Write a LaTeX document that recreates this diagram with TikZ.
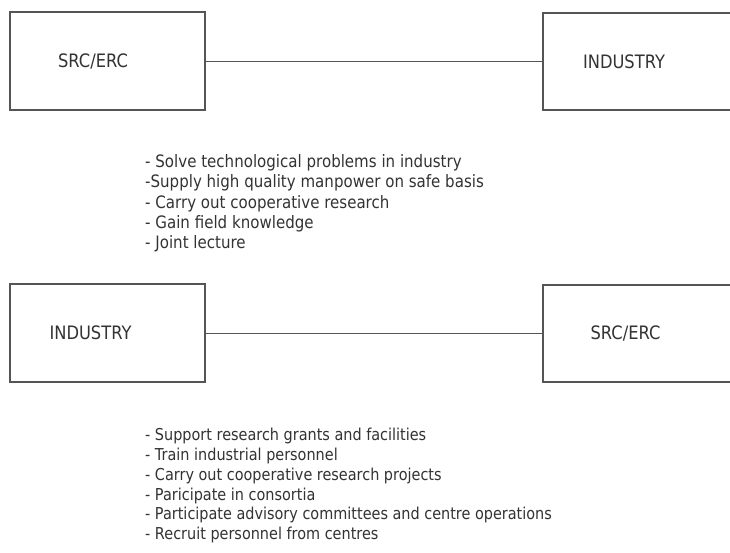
\documentclass[tikz,border=0pt]{standalone}
\usepackage{fontspec}
\setmainfont{DejaVu Sans}
\newfontfamily\tah[FakeStretch=0.88]{DejaVu Sans}
\definecolor{ink}{HTML}{333333}
\definecolor{frame}{HTML}{555555}
\tikzset{
  partbox/.style={draw=frame, line width=1.1pt, inner sep=0pt},
  partname/.style={text=ink, font=\tah\fontsize{18.5}{22}\selectfont, anchor=base, inner sep=0pt},
  item/.style={text=ink, font=\tah\fontsize{16.4}{20}\selectfont, anchor=base west, inner sep=0pt},
  itemwide/.style={item, font=\tah\fontsize{17.1}{20}\selectfont},
  link/.style={draw=frame, line width=0.9pt}
}
\begin{document}
\begin{tikzpicture}[x=1pt, y=-1pt]
  \useasboundingbox[fill=white] (0,0) rectangle (730,553);

  % first pairing
  \node[partbox, minimum width=195pt, minimum height=98pt] (src1) at (107.5,61) {};
  \node[partbox, minimum width=197pt, minimum height=97pt] (ind1) at (641.5,61.5) {};
  \node[partname] (src1t) at (93,68) {SRC/ERC};
  \node[partname] (ind1t) at (624,68.5) {INDUSTRY};
  \draw[link] (src1.east) -- (src1.east -| ind1.west);

  \node[itemwide] (a1) at (145,167.5) {- Solve technological problems in industry};
  \node[itemwide] (a2) at (145,187.8) {-Supply high quality manpower on safe basis};
  \node[itemwide] (a3) at (145,208.1) {- Carry out cooperative research};
  \node[itemwide] (a4) at (145,228.4) {- Gain field knowledge};
  \node[itemwide] (a5) at (145,248.7) {- Joint lecture};

  % second pairing
  \node[partbox, minimum width=195pt, minimum height=98pt] (ind2) at (107.5,333) {};
  \node[partbox, minimum width=197pt, minimum height=97pt] (src2) at (641.5,333.5) {};
  \node[partname] (ind2t) at (90.5,339.5) {INDUSTRY};
  \node[partname] (src2t) at (625.5,339.5) {SRC/ERC};
  \draw[link] (ind2.east) -- (ind2.east -| src2.west);

  \node[item] (b1) at (145,440.7) {- Support research grants and facilities};
  \node[item] (b2) at (145,460.5) {- Train industrial personnel};
  \node[item] (b3) at (145,480.3) {- Carry out cooperative research projects};
  \node[item] (b4) at (145,500.1) {- Paricipate in consortia};
  \node[item] (b5) at (145,519.9) {- Participate advisory committees and centre operations};
  \node[item] (b6) at (145,539.7) {- Recruit personnel from centres};
\end{tikzpicture}
\end{document}
